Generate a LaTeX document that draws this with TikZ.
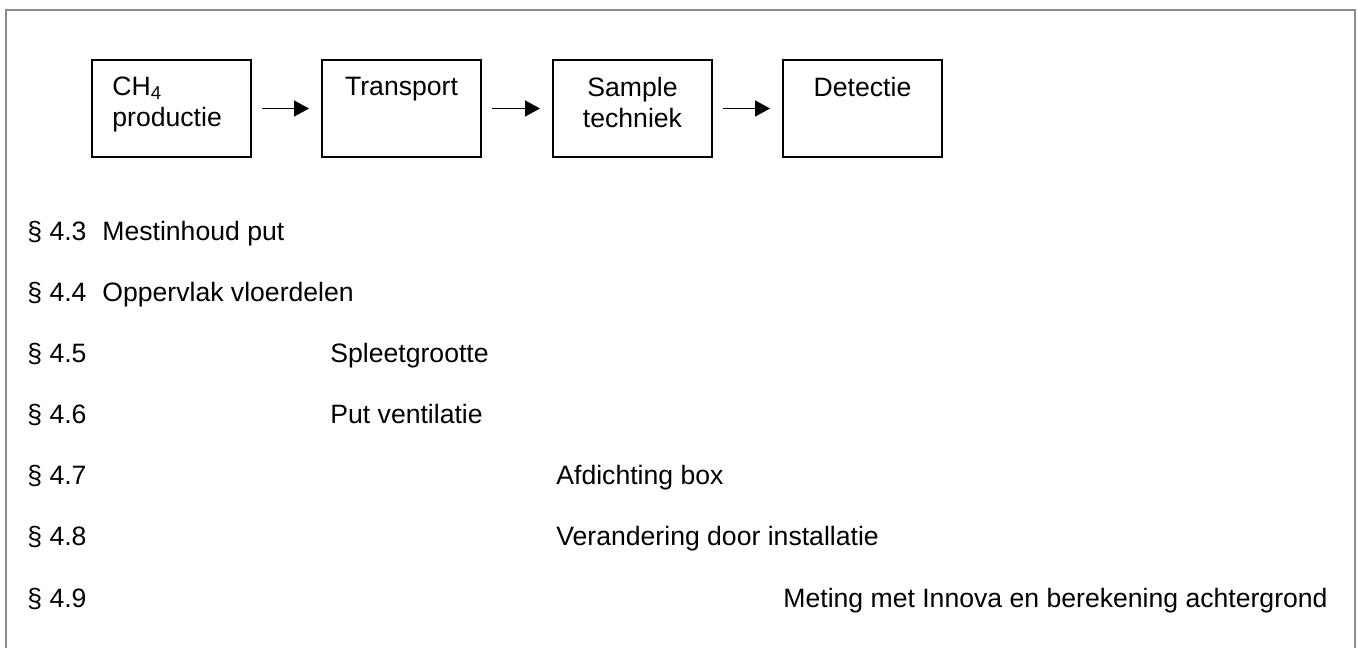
\documentclass[tikz,border=0pt]{standalone}
\usepackage{fontspec}
\setmainfont{Liberation Sans}
\usetikzlibrary{positioning,arrows.meta}

\tikzset{
    stepbox/.style={draw, line width=1pt, minimum width=79.5pt, minimum height=48.5pt, inner sep=0pt},
    boxtext/.style={inner sep=0pt, font={\fontsize{13.3}{15.5}\selectfont}},
    flow/.style={line width=0.8pt, -{Triangle[length=7.5pt,width=8pt]}},
    sectext/.style={inner sep=0pt, anchor=base west, font={\fontsize{13.3}{15.5}\selectfont}},
    frameline/.style={line width=1.2pt, color={rgb,255:red,140;green,140;blue,140}}
}

\begin{document}
\begin{tikzpicture}[x=0.5pt, y=-0.5pt]
    \useasboundingbox (0,0) rectangle (1358,648);

    \draw [frameline] (6,648) -- (6,10) -- (1355,10) -- (1355,648);

    % chain of boxes
    \node[stepbox] (prod)   at (171.5,108.5) {};
    \node[stepbox] (trans)  at (401.5,108.5) {};
    \node[stepbox] (sample) at (632.5,108.5) {};
    \node[stepbox] (detect) at (862.5,108.5) {};

    \node[boxtext, anchor=north west, align=left] (prodtxt)
        at ([xshift=10.5pt, yshift=-8.75pt]prod.north west) {CH\textsubscript{4}\\productie};
    \node[boxtext, below=8.75pt of trans.north] (transtxt) {Transport};
    \node[boxtext, below=8.75pt of sample.north, align=center] (sampletxt) {Sample\\techniek};
    \node[boxtext, below=8.75pt of detect.north] (detecttxt) {Detectie};

    \draw [flow] ([xshift=5pt]prod.east)   -- ([xshift=-6pt]trans.west);
    \draw [flow] ([xshift=5pt]trans.east)  -- ([xshift=-6pt]sample.west);
    \draw [flow] ([xshift=5pt]sample.east) -- ([xshift=-6pt]detect.west);

    % paragraphs
    \node[sectext] (s43) at (27,240) {§ 4.3};
    \node[sectext] (s44) at (27,301) {§ 4.4};
    \node[sectext] (s45) at (27,362) {§ 4.5};
    \node[sectext] (s46) at (27,423) {§ 4.6};
    \node[sectext] (s47) at (27,484) {§ 4.7};
    \node[sectext] (s48) at (27,545) {§ 4.8};
    \node[sectext] (s49) at (27,607) {§ 4.9};

    \node[sectext] (t43) at (102,240) {Mestinhoud put};
    \node[sectext] (t44) at (102,301) {Oppervlak vloerdelen};
    \node[sectext] (t45) at (330,362) {Spleetgrootte};
    \node[sectext] (t46) at (330,423) {Put ventilatie};
    \node[sectext] (t47) at (556,484) {Afdichting box};
    \node[sectext] (t48) at (556,545) {Verandering door installatie};
    \node[sectext] (t49) at (783,607) {Meting met Innova en berekening achtergrond};
\end{tikzpicture}
\end{document}
